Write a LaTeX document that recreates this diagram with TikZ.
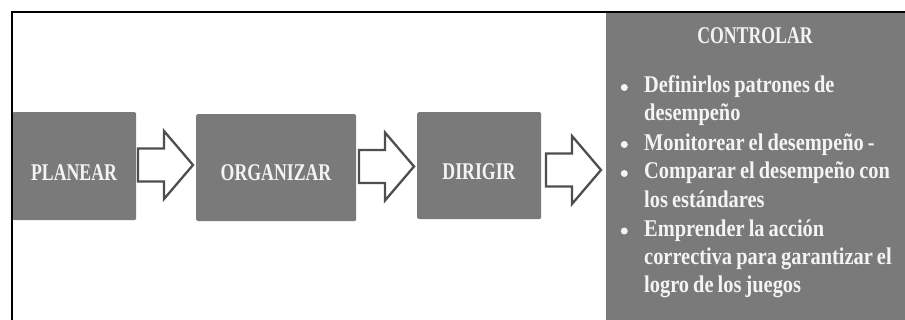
\documentclass[tikz,border=0pt]{standalone}
\usepackage{fontspec}
\newfontfamily\capsfont[FakeStretch=0.74]{Liberation Serif Bold}
\newfontfamily\bodyfont[FakeStretch=0.85, WordSpace=0.8]{Liberation Serif Bold}
\definecolor{boxgray}{RGB}{122,122,122}
\definecolor{txtcol}{RGB}{244,244,244}
\definecolor{arrowline}{RGB}{78,78,78}
\tikzset{
  box/.style={fill=boxgray, draw=none, rounded corners=1.5pt, anchor=north west, inner sep=0pt},
  lbl/.style={text=txtcol, font=\capsfont\fontsize{24}{24}\selectfont, anchor=base, inner sep=0pt},
  itemtext/.style={text=txtcol, font=\bodyfont\fontsize{24}{24}\selectfont, anchor=base west, inner sep=0pt},
  bul/.style={circle, fill=txtcol, minimum size=7pt, inner sep=0pt},
  barrow/.style={draw=arrowline, fill=white, line width=2.3pt, line join=miter},
  framestyle/.style={draw=black, line width=2pt},
  blockarrow/.pic={\draw[barrow] (0,-16.5) -- (26,-16.5) -- (26,-34) -- (55,0) -- (26,34) -- (26,16.5) -- (0,16.5) -- cycle;}
}
\begin{document}
\begin{tikzpicture}[x=1pt,y=-1pt]
\useasboundingbox (0,0) rectangle (905,320);
% boxes
\node[box, minimum width=124pt, minimum height=108pt] (plan) at (12,112) {};
\node[box, minimum width=160pt, minimum height=107pt] (org) at (196,114) {};
\node[box, minimum width=124pt, minimum height=107pt] (dir) at (417,112) {};
\node[box, rounded corners=0pt, minimum width=299pt, minimum height=307pt] (ctrl) at (606,13) {};
% labels
\node[lbl] (planT) at (74,181) {PLANEAR};
\node[lbl] (orgT) at (276,181) {ORGANIZAR};
\node[lbl] (dirT) at (479,180) {DIRIGIR};
\node[lbl] (ctrlT) at (755,44) {CONTROLAR};
% list
\node[itemtext] (l1) at (644,93) {Definirlos patrones de};
\node[itemtext] (l2) at (644,121) {desempeño};
\node[itemtext] (l3) at (644,150.5) {Monitorear el desempeño -};
\node[itemtext] (l4) at (644,179) {Comparar el desempeño con};
\node[itemtext] (l5) at (644,207.5) {los estándares};
\node[itemtext] (l6) at (644,236.5) {Emprender la acción};
\node[itemtext] (l7) at (644,265) {correctiva para garantizar el};
\node[itemtext] (l8) at (644,292.5) {logro de los juegos};
\node[bul] (b1) at (624.3,87.5) {};
\node[bul] (b2) at (624.3,144.5) {};
\node[bul] (b3) at (624.3,173.5) {};
\node[bul] (b4) at (624.3,231) {};
% block arrows
\pic at (138,165) {blockarrow};
\pic at (359,166.5) {blockarrow};
\pic at (546,170) {blockarrow};
% frame
\draw[framestyle] (12,321) -- (12,12) -- (906,12);
\end{tikzpicture}
\end{document}
